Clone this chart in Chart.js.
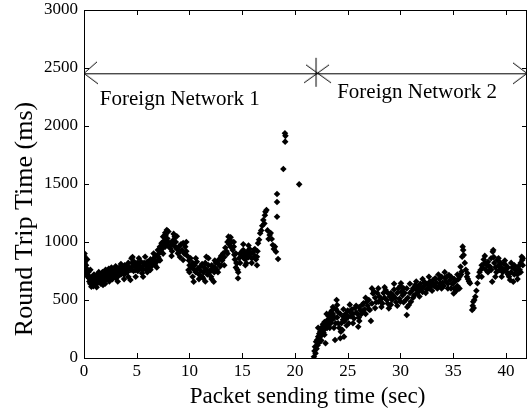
<!DOCTYPE html>
<html>
<head>
<meta charset="utf-8">
<script src="https://cdn.jsdelivr.net/npm/chart.js@4.4.1/dist/chart.umd.min.js"></script>
<style>
  html, body { margin: 0; padding: 0; background: #fff; }
  #wrap { width: 528px; height: 410px; }
</style>
</head>
<body>
<div id="wrap"><canvas id="rtt" width="528" height="410"></canvas></div>
<script>
// Round trip time samples while attached to the first foreign network: [send time (s), RTT (ms)]
const network1 = [
  [0.02,880],[0.05,900],[0.08,820],[0.1,860],[0.12,780],[0.15,840],[0.18,760],[0.2,800],[0.22,730],[0.25,770],
  [0.3,720],[0.35,700],[0.4,740],[0.45,690],[0.5,660],[0.55,700],[0.6,640],[0.65,680],[0.7,615],[0.75,660],
  [0.8,700],[0.85,640],[0.9,672],[0.95,720],[1.0,650],[1.05,690],[1.1,630],[1.15,700],[1.2,670],[1.25,720],
  [1.3,650],[1.35,690],[1.4,740],[1.45,660],[1.5,701],[1.55,680],[1.6,720],[1.65,650],[1.7,690],[1.75,740],
  [1.8,629],[1.85,700],[1.9,670],[1.95,730],[2.0,690],[2.05,760],[2.1,710],[2.15,680],[2.2,744],[2.3,700],
  [2.35,770],[2.4,720],[2.5,690],[2.55,750],[2.6,710],[2.7,680],[2.75,740],[2.8,701],[2.9,759],[2.95,720],
  [3.0,690],[3.1,760],[3.15,730],[3.2,700],[3.3,730],[3.35,780],[3.4,750],[3.5,720],[3.6,787],[3.65,740],
  [3.7,760],[3.8,720],[3.85,800],[3.9,770],[4.0,759],[4.05,800],[4.1,740],[4.2,820],[4.3,780],[4.4,672],
  [4.45,760],[4.5,859],[4.55,820],[4.6,790],[4.7,750],[4.75,830],[4.8,800],[4.9,760],[5.0,787],[5.05,820],
  [5.1,750],[5.2,800],[5.3,770],[5.4,830],[5.5,730],[5.55,790],[5.6,760],[5.7,820],[5.8,873],[5.85,800],
  [5.9,770],[6.0,830],[6.1,787],[6.2,810],[6.3,850],[6.4,790],[6.5,820],[6.6,860],[6.7,845],[6.75,800],
  [6.8,880],[6.9,830],[7.0,931],[7.05,870],[7.1,900],[7.15,850],[7.2,960],[7.3,920],[7.35,990],[7.4,940],
  [7.5,1046],[7.55,980],[7.6,1010],[7.7,960],[7.75,1060],[7.8,1000],[7.85,1103],[7.9,1030],[7.95,970],[8.0,1000],
  [8.1,960],[8.2,945],[8.3,1000],[8.35,920],[8.4,980],[8.5,1020],[8.6,1046],[8.65,960],[8.7,1000],[8.8,940],
  [8.9,902],[9.0,960],[9.1,920],[9.2,980],[9.3,930],[9.4,845],[9.5,900],[9.6,960],[9.7,920],[9.8,880],
  [9.9,759],[9.95,840],[10.0,800],[10.1,860],[10.2,780],[10.3,820],[10.4,658],[10.45,760],[10.5,800],[10.6,740],
  [10.7,830],[10.8,770],[10.9,720],[11.0,787],[11.1,750],[11.2,810],[11.3,687],[11.35,740],[11.4,780],[11.5,820],
  [11.6,873],[11.65,760],[11.7,720],[11.8,800],[11.9,740],[12.0,759],[12.05,700],[12.1,800],[12.2,770],[12.3,658],
  [12.35,740],[12.4,780],[12.5,820],[12.6,760],[12.7,816],[12.8,850],[12.9,790],[13.0,880],[13.1,840],[13.2,902],
  [13.3,870],[13.4,950],[13.5,920],[13.6,1000],[13.7,1046],[13.75,980],[13.8,1020],[13.9,960],[14.0,1000],[14.1,930],
  [14.2,960],[14.25,890],[14.3,850],[14.4,900],[14.45,820],[14.5,816],[14.55,760],[14.6,687],[14.62,740],[14.7,860],
  [14.8,900],[14.9,880],[15.0,920],[15.1,931],[15.15,860],[15.2,900],[15.3,850],[15.4,816],[15.45,880],[15.5,920],
  [15.6,870],[15.7,940],[15.8,900],[15.9,860],[16.0,910],[16.1,931],[16.2,880],[16.3,850],[16.4,873],[16.45,920],
  [16.5,990],[16.6,1020],[16.7,1075],[16.8,1100],[16.9,1140],[17.0,1190],[17.1,1160],[17.15,1230],[17.2,1260],[17.3,1276],
  [17.4,1100],[17.5,1026],[17.6,1060],[17.7,1078],[17.8,1026],[17.9,974],[18.0,940],[18.1,960],[18.2,916],[18.3,1218],
  [18.3,1345],[18.3,1414],[18.4,853],[18.9,1629],[19.05,1937],[19.1,1915],[19.07,1865],[20.4,1497],
  [0.3,850],[0.6,760],[0.9,620],[1.2,610],[1.6,640],[2.0,640],[2.4,660],[2.6,780],[3.0,790],[3.2,660],
  [3.5,810],[3.8,680],[4.2,700],[4.6,870],[4.9,700],[5.2,860],[5.6,700],[6.0,740],[6.3,760],[6.6,900],
  [6.9,780],[7.2,840],[7.5,900],[7.7,1080],[8.0,1090],[8.3,880],[8.5,1070],[8.8,1050],[9.1,870],[9.4,990],
  [9.7,1000],[10.0,740],[10.3,700],[10.6,860],[10.9,680],[11.2,700],[11.5,660],[11.8,860],[12.1,680],[12.4,840],
  [12.7,740],[13.0,800],[13.3,800],[13.6,900],[13.9,1040],[14.2,1000],[14.4,780],[14.8,820],[15.1,980],[15.3,800],
  [15.6,970],[15.9,820],[16.2,940],[16.4,800]
];

// Round trip time samples after the handover to the second foreign network
const network2 = [
  [21.8,11],[21.85,60],[21.9,97],[21.95,40],[22.0,140],[22.05,80],[22.1,155],[22.15,110],[22.2,184],[22.25,130],
  [22.3,210],[22.35,160],[22.4,227],[22.45,190],[22.5,260],[22.55,200],[22.6,241],[22.65,290],[22.7,220],[22.75,270],
  [22.8,310],[22.85,250],[22.9,127],[22.95,284],[23.0,299],[23.05,260],[23.1,330],[23.15,290],[23.2,360],[23.25,310],
  [23.3,342],[23.35,390],[23.4,300],[23.45,350],[23.5,410],[23.55,330],[23.6,380],[23.7,260],[23.75,350],[23.8,155],
  [23.85,300],[23.9,420],[23.95,500],[24.0,457],[24.05,399],[24.1,300],[24.2,260],[24.3,170],[24.35,227],[24.4,300],
  [24.5,241],[24.55,330],[24.6,356],[24.65,184],[24.7,320],[24.8,380],[24.9,340],[25.0,410],[25.05,356],[25.1,300],
  [25.2,399],[25.3,360],[25.4,420],[25.5,380],[25.6,340],[25.7,430],[25.8,390],[25.9,385],[26.0,270],[26.05,350],
  [26.1,440],[26.2,414],[26.3,380],[26.4,460],[26.5,471],[26.6,420],[26.7,380],[26.8,485],[26.9,450],[27.0,500],
  [27.1,414],[27.2,320],[27.3,470],[27.4,557],[27.5,572],[27.6,520],[27.7,480],[27.8,560],[27.9,485],[28.0,530],
  [28.1,485],[28.2,510],[28.3,470],[28.4,560],[28.5,520],[28.6,586],[28.7,500],[28.8,470],[28.9,428],[29.0,529],
  [29.1,560],[29.2,500],[29.3,540],[29.4,590],[29.5,520],[29.6,480],[29.7,560],[29.8,600],[29.9,510],[30.0,485],
  [30.05,644],[30.1,572],[30.2,540],[30.3,601],[30.4,560],[30.5,500],[30.6,371],[30.65,440],[30.7,520],[30.8,457],
  [30.9,560],[31.0,485],[31.1,580],[31.2,601],[31.3,540],[31.4,629],[31.5,590],[31.6,560],[31.7,620],[31.8,580],
  [31.9,640],[32.0,600],[32.1,570],[32.2,615],[32.3,650],[32.4,644],[32.5,590],[32.6,630],[32.7,600],[32.8,660],
  [32.9,620],[33.0,640],[33.1,672],[33.2,620],[33.3,687],[33.4,650],[33.5,600],[33.6,615],[33.7,680],[33.8,640],
  [33.9,700],[34.0,650],[34.1,620],[34.2,690],[34.3,660],[34.4,701],[34.5,640],[34.6,715],[34.7,672],[34.8,600],
  [34.9,640],[35.0,644],[35.05,557],[35.1,600],[35.2,660],[35.3,580],[35.4,620],[35.5,680],[35.6,700],[35.7,787],
  [35.75,720],[35.8,744],[35.85,873],[35.9,960],[35.95,930],[36.0,888],[36.1,820],[36.2,760],[36.3,701],[36.35,730],
  [36.4,680],[36.5,660],[36.6,644],[36.8,414],[36.85,450],[36.9,485],[36.95,430],[37.0,500],[37.1,529],[37.2,580],
  [37.3,644],[37.4,700],[37.5,740],[37.6,759],[37.7,800],[37.8,780],[37.9,850],[38.0,820],[38.1,760],[38.2,800],
  [38.3,740],[38.4,790],[38.5,787],[38.6,760],[38.7,658],[38.75,916],[38.8,931],[38.85,870],[38.9,820],[39.0,780],
  [39.1,740],[39.2,845],[39.3,800],[39.4,760],[39.5,820],[39.6,780],[39.7,740],[39.8,816],[39.9,760],[40.0,800],
  [40.1,740],[40.2,780],[40.3,700],[40.4,672],[40.5,740],[40.6,780],[40.7,658],[40.8,720],[40.9,760],[41.0,759],
  [41.1,720],[41.2,790],[41.3,760],[41.4,820],[41.5,873],[41.55,845],[41.6,800],
  [22.2,260],[22.5,150],[22.8,200],[23.0,380],[23.3,260],[23.6,440],[24.0,350],[24.3,380],[24.6,420],[24.9,280],
  [25.2,460],[25.5,300],[25.8,450],[26.1,320],[26.4,400],[26.7,520],[27.0,420],[27.3,600],[27.6,430],[27.9,600],
  [28.2,440],[28.5,610],[28.8,560],[29.1,460],[29.4,640],[29.7,450],[30.0,620],[30.3,480],[30.6,600],[30.9,640],
  [31.2,520],[31.5,660],[31.8,530],[32.1,680],[32.4,560],[32.7,700],[33.0,580],[33.3,620],[33.6,720],[33.9,600],
  [34.2,740],[34.5,600],[34.8,700],[35.1,680],[35.4,720],[35.6,600],[37.7,700],[38.0,880],[38.3,830],[38.6,860],
  [39.0,700],[39.3,860],[39.6,700],[39.9,840],[40.2,720],[40.5,820],[40.8,800],[41.1,680],[41.4,740],[41.6,860]
];

// Span arrow marking the two attachment periods, and the handover instant
const spanLevel = 2450;
const spanStart = 0;
const spanEnd = 42;
const handoverTime = 22;

// Region labels: [text, start time, RTT level]
const regionLabels = [
  ['Foreign Network 1', 1.5, 2181],
  ['Foreign Network 2', 24.0, 2238]
];

const xTickValues = [0, 5, 10, 15, 20, 25, 30, 35, 40];
const yTickValues = [0, 500, 1000, 1500, 2000, 2500, 3000];

const SERIF = '"Liberation Serif", "Times New Roman", serif';

// Small glyph canvases used as point styles
function glyph(w, h, draw) {
  const c = document.createElement('canvas');
  c.width = w; c.height = h;
  const g = c.getContext('2d');
  g.strokeStyle = '#000';
  g.lineWidth = 1;
  draw(g);
  return c;
}
// asterisk at the handover point (the horizontal arm is the span line itself)
const asterisk = glyph(34, 34, g => {
  g.beginPath();
  g.moveTo(17, 1); g.lineTo(17, 30);
  g.moveTo(5, 26); g.lineTo(30, 8);
  g.moveTo(7, 8); g.lineTo(32, 26);
  g.stroke();
});
// open arrow heads at both ends of the span line
const headLeft = glyph(30, 30, g => {
  g.beginPath();
  g.moveTo(28, 3); g.lineTo(15, 14.5); g.lineTo(29, 25);
  g.stroke();
});
const headRight = glyph(30, 30, g => {
  g.beginPath();
  g.moveTo(1, 4); g.lineTo(15, 14.5); g.lineTo(1, 25);
  g.stroke();
});

const toPoints = arr => arr.map(([x, y]) => ({ x, y }));

// Frame, inward ticks, region labels and axis titles
const framePlugin = {
  id: 'frame',
  afterDatasetsDraw(chart) {
    const { ctx, chartArea: a, scales: { x, y } } = chart;
    ctx.save();
    ctx.strokeStyle = '#000';
    ctx.lineWidth = 1;
    ctx.strokeRect(Math.round(a.left) + 0.5, Math.round(a.top) + 0.5,
                   Math.round(a.right - a.left) - 1, Math.round(a.bottom - a.top));
    const len = 5;
    ctx.beginPath();
    xTickValues.forEach(v => {
      const px = Math.round(x.getPixelForValue(v)) + 0.5;
      ctx.moveTo(px, a.bottom); ctx.lineTo(px, a.bottom - len);
      ctx.moveTo(px, a.top); ctx.lineTo(px, a.top + len);
    });
    yTickValues.forEach(v => {
      const py = Math.round(y.getPixelForValue(v)) + 0.5;
      ctx.moveTo(a.left, py); ctx.lineTo(a.left + len, py);
      ctx.moveTo(a.right, py); ctx.lineTo(a.right - len, py);
    });
    ctx.stroke();

    ctx.fillStyle = '#000';
    ctx.font = '21px ' + SERIF;
    ctx.textAlign = 'left';
    ctx.textBaseline = 'alphabetic';
    regionLabels.forEach(([text, t, level]) => {
      ctx.fillText(text, x.getPixelForValue(t), y.getPixelForValue(level));
    });

    ctx.font = '23px ' + SERIF;
    ctx.textAlign = 'center';
    ctx.fillText('Packet sending time (sec)', (a.left + a.right) / 2 + 2, 403);

    ctx.save();
    ctx.translate(32, 219);
    ctx.rotate(-Math.PI / 2);
    ctx.font = '26px ' + SERIF;
    ctx.fillText('Round Trip Time (ms)', 0, 0);
    ctx.restore();
    ctx.restore();
  }
};

const whiteBg = {
  id: 'whiteBg',
  beforeDraw(chart) {
    const { ctx, width, height } = chart;
    ctx.save();
    ctx.fillStyle = '#fff';
    ctx.fillRect(0, 0, width, height);
    ctx.restore();
  }
};

const dotStyle = {
  pointStyle: 'rectRot',
  pointRadius: 3.3,
  pointHoverRadius: 3.3,
  backgroundColor: '#000',
  borderColor: '#000',
  borderWidth: 0,
  showLine: false
};

new Chart(document.getElementById('rtt'), {
  type: 'scatter',
  data: {
    datasets: [
      Object.assign({ label: 'Foreign Network 1', data: toPoints(network1) }, dotStyle),
      Object.assign({ label: 'Foreign Network 2', data: toPoints(network2) }, dotStyle),
      {
        label: 'span',
        data: [{ x: spanStart, y: spanLevel }, { x: spanEnd, y: spanLevel }],
        showLine: true,
        borderColor: '#000',
        borderWidth: 1,
        pointStyle: [headLeft, headRight],
        pointRadius: 15,
        clip: false
      },
      {
        label: 'handover',
        data: [{ x: handoverTime, y: spanLevel }],
        pointStyle: asterisk,
        pointRadius: 17,
        showLine: false
      }
    ]
  },
  options: {
    responsive: false,
    animation: false,
    events: [],
    layout: { autoPadding: false, padding: { top: 10, right: 1, left: 0, bottom: 0 } },
    plugins: {
      legend: { display: false },
      tooltip: { enabled: false }
    },
    scales: {
      x: {
        type: 'linear',
        min: 0,
        max: 42,
        grid: { display: false, drawTicks: false },
        border: { display: false },
        afterBuildTicks: s => { s.ticks = xTickValues.map(v => ({ value: v })); },
        afterFit: s => { s.height = 52; s.paddingLeft = 0; s.paddingRight = 0; },
        ticks: {
          color: '#000',
          font: { family: SERIF, size: 17 },
          padding: 3,
          maxRotation: 0,
          autoSkip: false,
          callback: v => String(v)
        }
      },
      y: {
        type: 'linear',
        min: 0,
        max: 3000,
        grid: { display: false, drawTicks: false },
        border: { display: false },
        afterBuildTicks: s => { s.ticks = yTickValues.map(v => ({ value: v })); },
        afterFit: s => { s.width = 84; s.paddingTop = 0; s.paddingBottom = 0; },
        ticks: {
          color: '#000',
          font: { family: SERIF, size: 17 },
          padding: 6,
          autoSkip: false,
          callback: v => String(v)
        }
      }
    }
  },
  plugins: [whiteBg, framePlugin]
});
</script>
</body>
</html>
